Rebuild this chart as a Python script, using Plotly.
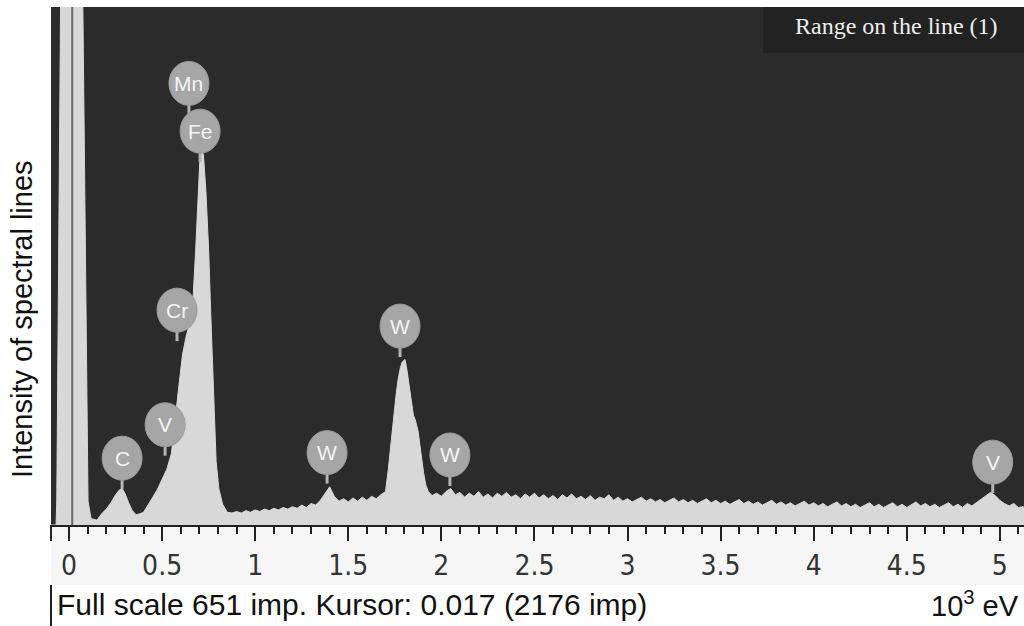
import plotly.graph_objects as go

# ---------------- data (energy in 10^3 eV, intensity in imp) ----------------
zero_peak_energy = [-0.100, -0.070, -0.066, -0.044, 0.017, 0.072, 0.102, 0.118]
zero_peak_counts = [0, 0, 30, 700, 5000, 700, 30, 8]

light_energy = [0.150, 0.175, 0.200, 0.225, 0.250, 0.270, 0.285, 0.300, 0.320, 0.340,
                0.360, 0.380, 0.400, 0.425, 0.450, 0.475, 0.500, 0.525, 0.550, 0.570,
                0.590, 0.610, 0.630, 0.650, 0.665, 0.680, 0.692, 0.702, 0.712, 0.722,
                0.735, 0.750, 0.762, 0.775, 0.790, 0.805, 0.825]
light_counts = [6, 14, 20, 28, 38, 44, 46, 40, 28, 18,
                13, 14, 16, 25, 35, 45, 57, 70, 90, 135,
                175, 215, 238, 255, 280, 345, 410, 455, 472, 465,
                420, 345, 260, 175, 80, 45, 26]

mid_energy = [0.850, 0.875, 0.900, 0.925, 0.950, 0.975, 1.000, 1.025, 1.050, 1.075,
              1.100, 1.125, 1.150, 1.175, 1.200, 1.225, 1.250, 1.275, 1.300, 1.325,
              1.350, 1.375, 1.400, 1.425, 1.450, 1.475, 1.500, 1.525, 1.550, 1.575,
              1.600, 1.625, 1.650, 1.675]
mid_counts = [16, 15, 17, 15, 18, 16, 19, 17, 20, 18,
              21, 19, 22, 20, 23, 21, 25, 22, 27, 25,
              31, 40, 48, 36, 30, 33, 29, 34, 30, 35,
              31, 36, 33, 38]

w_peak_energy = [1.700, 1.715, 1.725, 1.740, 1.755, 1.767, 1.780, 1.790, 1.805, 1.815,
                 1.825, 1.840, 1.850, 1.860, 1.875, 1.885, 1.895, 1.905, 1.917, 1.930,
                 1.950]
w_peak_counts = [42, 70, 94, 132, 160, 182, 198, 205, 208, 195,
                 178, 150, 138, 132, 118, 100, 82, 65, 50, 42,
                 37]

tail_energy = [1.975, 2.000, 2.025, 2.050, 2.075, 2.100, 2.125, 2.150, 2.175, 2.200,
               2.225, 2.250, 2.275, 2.300, 2.325, 2.350, 2.375, 2.400, 2.425, 2.450,
               2.475, 2.500, 2.525, 2.550, 2.575, 2.600, 2.625, 2.650, 2.675, 2.700,
               2.725, 2.750, 2.775, 2.800, 2.825, 2.850, 2.875, 2.900, 2.925, 2.950,
               2.975, 3.000, 3.025, 3.050, 3.075, 3.100, 3.125, 3.150, 3.175, 3.200,
               3.225, 3.250, 3.275, 3.300, 3.325, 3.350, 3.375, 3.400, 3.425, 3.450,
               3.475, 3.500, 3.525, 3.550, 3.575, 3.600, 3.625, 3.650, 3.675, 3.700,
               3.725, 3.750, 3.775, 3.800, 3.825, 3.850, 3.875, 3.900, 3.925, 3.950,
               3.975, 4.000, 4.025, 4.050, 4.075, 4.100, 4.125, 4.150, 4.175, 4.200,
               4.225, 4.250, 4.275, 4.300, 4.325, 4.350, 4.375, 4.400, 4.425, 4.450,
               4.475, 4.500, 4.525, 4.550, 4.575, 4.600, 4.625, 4.650, 4.675, 4.700,
               4.725, 4.750, 4.775, 4.800, 4.825, 4.850, 4.875, 4.900, 4.925, 4.950,
               4.975, 5.000, 5.025, 5.050, 5.075, 5.100, 5.125, 5.140]
tail_counts = [40, 36, 42, 46, 38, 41, 35, 40, 36, 42,
               35, 39, 34, 40, 36, 41, 35, 38, 33, 39,
               35, 40, 34, 38, 33, 37, 32, 38, 34, 39,
               33, 36, 32, 37, 31, 35, 33, 38, 31, 35,
               30, 33, 29, 32, 35, 30, 33, 29, 32, 28,
               31, 34, 29, 32, 28, 31, 27, 30, 33, 28,
               31, 27, 30, 26, 29, 32, 27, 30, 26, 29,
               25, 28, 31, 26, 29, 25, 28, 24, 27, 30,
               25, 28, 24, 27, 23, 26, 29, 24, 27, 23,
               26, 22, 25, 28, 23, 26, 22, 25, 28, 23,
               26, 22, 25, 29, 24, 27, 23, 26, 22, 25,
               28, 23, 26, 22, 27, 24, 28, 32, 36, 41,
               37, 31, 27, 24, 27, 22, 23, 21]

energy = zero_peak_energy + light_energy + mid_energy + w_peak_energy + tail_energy
counts = zero_peak_counts + light_counts + mid_counts + w_peak_counts + tail_counts
assert len(energy) == len(counts)

label_names = ["C", "V", "Cr", "Mn", "Fe", "W", "W", "W", "V"]
label_energy = [0.285, 0.516, 0.580, 0.644, 0.704, 1.386, 1.778, 2.046, 4.962]
label_height = [84, 126, 270, 555, 495, 91, 250, 88, 79]

cursor_energy = 0.017
full_scale = 651

tick_values = [0, 0.5, 1, 1.5, 2, 2.5, 3, 3.5, 4, 4.5, 5]
tick_labels = ["0", "0.5", "1", "1.5", "2", "2.5", "3", "3.5", "4", "4.5", "5"]

# ---------------- figure ----------------
W, H = 1024, 626
ML, MR, MT, MB = 51, 0, 7, 101
PW, PH = W - ML - MR, H - MT - MB


def px_x(px):
    return (px - ML) / PW


def px_y(py):
    return (H - MB - py) / PH


fig = go.Figure()
fig.add_trace(go.Scatter(
    x=energy, y=counts, mode="lines", fill="tozeroy",
    line=dict(color="#d8d8d8", width=1), fillcolor="#d8d8d8",
    hoverinfo="skip", showlegend=False))

shapes = []
# tick label band
shapes.append(dict(type="rect", xref="paper", yref="paper", x0=0, x1=1,
                   y0=px_y(585), y1=px_y(526), fillcolor="#f6f6f6",
                   line=dict(width=0), layer="below"))
# left border segments
shapes.append(dict(type="line", xref="paper", yref="paper", x0=0, x1=0,
                   y0=px_y(525), y1=px_y(541), line=dict(color="#222", width=2)))
shapes.append(dict(type="line", xref="paper", yref="paper", x0=0, x1=0,
                   y0=px_y(585), y1=px_y(626), line=dict(color="#222", width=2)))
# cursor
shapes.append(dict(type="line", xref="x", yref="paper", x0=cursor_energy, x1=cursor_energy,
                   y0=0, y1=1, line=dict(color="#6a6a6a", width=2)))
# range box
shapes.append(dict(type="rect", xref="paper", yref="paper", x0=px_x(763), x1=1,
                   y0=px_y(53), y1=1, fillcolor="#222222", line=dict(width=0)))
# element markers: sticks then circles
for e, h in zip(label_energy, label_height):
    shapes.append(dict(type="line", xref="x", yref="y", xsizemode="pixel", ysizemode="pixel",
                       xanchor=e, yanchor=h, x0=0, x1=0, y0=0, y1=-31,
                       line=dict(color="#b4b4b4", width=3)))
for e, h in zip(label_energy, label_height):
    shapes.append(dict(type="circle", xref="x", yref="y", xsizemode="pixel", ysizemode="pixel",
                       xanchor=e, yanchor=h, x0=-20, x1=20, y0=-22, y1=22,
                       fillcolor="#a6a6a6", line=dict(color="#9a9a9a", width=1)))

annotations = []
for name, e, h in zip(label_names, label_energy, label_height):
    annotations.append(dict(x=e, y=h, xref="x", yref="y", text=name, showarrow=False,
                            font=dict(family="Liberation Sans, Arial", size=21, color="#f4f4f4"),
                            xanchor="center", yanchor="middle"))
annotations.append(dict(x=px_x(896), y=px_y(26), xref="paper", yref="paper",
                        text="Range on the line (1)", showarrow=False,
                        font=dict(family="Liberation Serif, Times New Roman, serif", size=24, color="#eeeeee"),
                        xanchor="center", yanchor="middle"))
annotations.append(dict(x=px_x(55), y=px_y(604), xref="paper", yref="paper",
                        text=f"Full scale {full_scale} imp. Kursor: {cursor_energy} (2176 imp)",
                        showarrow=False,
                        font=dict(family="Liberation Sans, Arial", size=30, color="#111111"),
                        xanchor="left", yanchor="middle"))
annotations.append(dict(x=px_x(1021), y=px_y(604), xref="paper", yref="paper",
                        text="10<sup>3</sup> eV", showarrow=False,
                        font=dict(family="Liberation Sans, Arial", size=29, color="#111111"),
                        xanchor="right", yanchor="middle"))
annotations.append(dict(x=px_x(22), y=px_y(319), xref="paper", yref="paper",
                        text="Intensity of spectral lines", showarrow=False, textangle=-90,
                        font=dict(family="Liberation Sans, Arial", size=29, color="#111111"),
                        xanchor="center", yanchor="middle"))

fig.update_layout(
    width=W, height=H,
    margin=dict(l=ML, r=MR, t=MT, b=MB, pad=0),
    paper_bgcolor="white", plot_bgcolor="#2b2b2b",
    showlegend=False,
    shapes=shapes, annotations=annotations,
    xaxis=dict(range=[-0.097, 5.13], tickmode="array", tickvals=tick_values, ticktext=tick_labels,
               ticks="outside", ticklen=14, tickwidth=2, tickcolor="#222",
               minor=dict(tickmode="linear", tick0=0, dtick=0.1, ticks="outside",
                          ticklen=7, tickwidth=2, tickcolor="#222"),
               showline=True, linecolor="#222", linewidth=2,
               showgrid=False, zeroline=False, fixedrange=True,
               tickfont=dict(family="Liberation Sans Narrow, Arial Narrow, DejaVu Sans Condensed, sans-serif",
                             size=28, color="#333333")),
    yaxis=dict(range=[0, full_scale], visible=False, showgrid=False, zeroline=False, fixedrange=True),
)

fig.write_html("out.html", config=dict(displayModeBar=False))
